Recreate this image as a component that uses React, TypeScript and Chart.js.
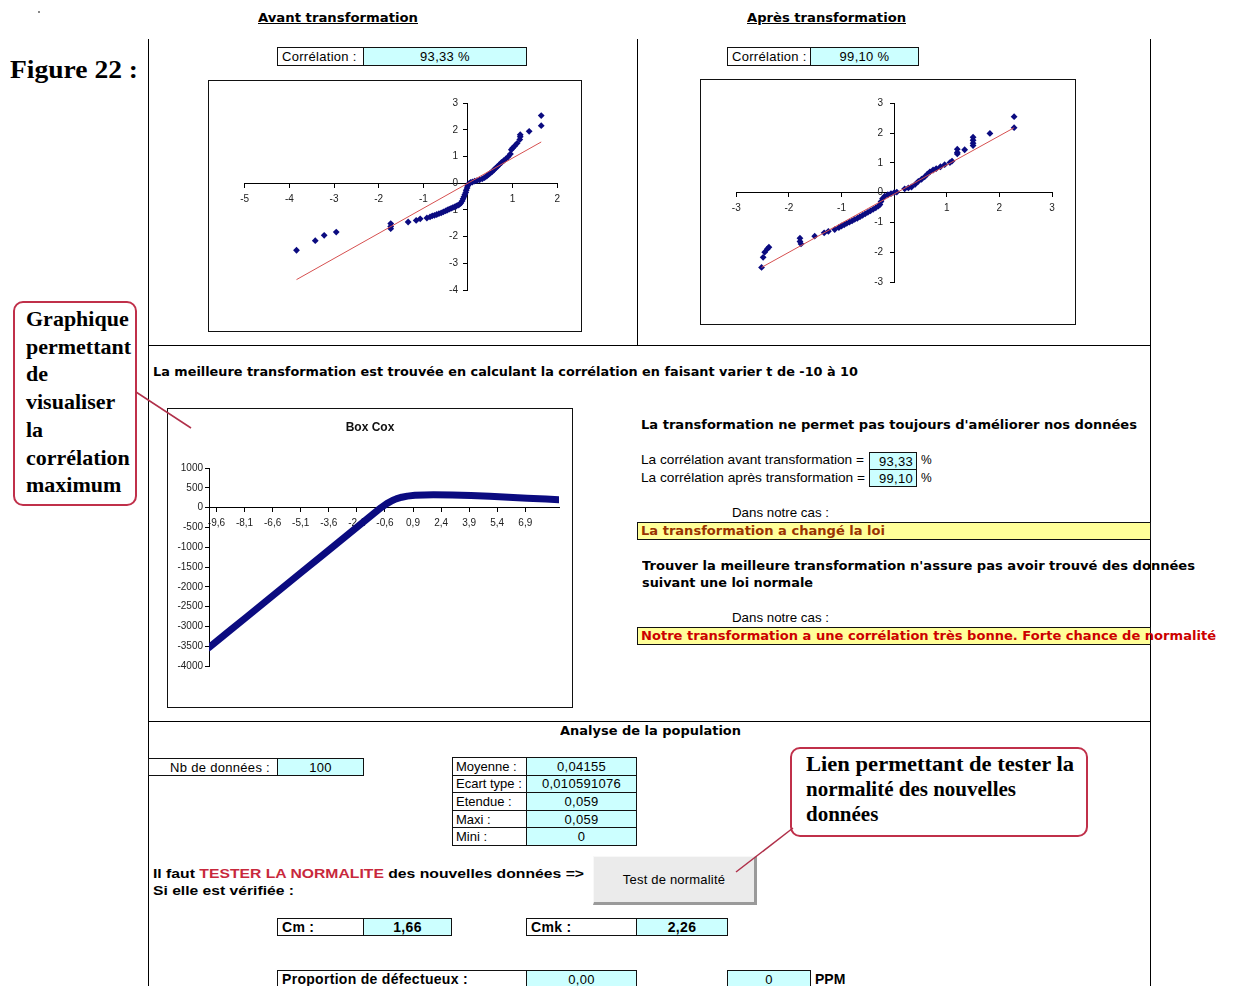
import React, { useEffect, useLayoutEffect, useRef } from "react";
import { Chart, registerables } from "chart.js";

Chart.register(...registerables);

// ---------- DATA ----------
// "Avant transformation" normal probability plot
const avantX = [-3.84, -3.42, -3.22, -2.95, -1.73, -1.73, -1.73, -1.34, -1.16, -1.07, -0.92, -0.85, -0.8, -0.75, -0.7, -0.65, -0.6, -0.55, -0.5, -0.46, -0.42, -0.38, -0.34, -0.3, -0.26, -0.22, -0.19, -0.16, -0.13, -0.11, -0.09, -0.07, -0.05, -0.04, -0.02, -0.01, 0.01, 0.03, 0.06, 0.1, 0.15, 0.2, 0.26, 0.32, 0.37, 0.42, 0.46, 0.5, 0.54, 0.58, 0.62, 0.66, 0.7, 0.75, 0.8, 0.85, 0.9, 0.95, 0.97, 1, 1.04, 1.1, 1.16, 1.17, 1.17, 1.37, 1.64, 1.64];
const avantY = [-2.51, -2.15, -1.95, -1.83, -1.51, -1.62, -1.7, -1.45, -1.39, -1.33, -1.3, -1.26, -1.22, -1.2, -1.17, -1.14, -1.11, -1.07, -1.03, -1, -0.97, -0.94, -0.91, -0.88, -0.85, -0.82, -0.79, -0.74, -0.66, -0.58, -0.5, -0.42, -0.34, -0.26, -0.18, -0.1, -0.04, 0, 0.03, 0.05, 0.08, 0.1, 0.13, 0.17, 0.21, 0.27, 0.33, 0.38, 0.44, 0.5, 0.57, 0.63, 0.7, 0.78, 0.85, 0.92, 1, 1.1, 1.26, 1.32, 1.39, 1.5, 1.64, 1.75, 1.82, 1.95, 2.16, 2.54];
const avantTrendX = [-3.84, 1.64];
const avantTrendY = [-3.61, 1.55];
const avantXTicks = [-5, -4, -3, -2, -1, 0, 1, 2];
const avantYTicks = [-4, -3, -2, -1, 0, 1, 2, 3];

// "Après transformation" normal probability plot
const apresX = [-2.52, -2.49, -2.46, -2.41, -2.38, -1.79, -1.79, -1.77, -1.51, -1.33, -1.25, -1.13, -1.05, -1, -0.95, -0.9, -0.85, -0.8, -0.75, -0.7, -0.65, -0.6, -0.55, -0.5, -0.45, -0.4, -0.35, -0.3, -0.27, -0.25, -0.22, -0.18, -0.12, -0.06, 0, 0.05, 0.2, 0.27, 0.33, 0.4, 0.46, 0.52, 0.58, 0.63, 0.68, 0.74, 0.8, 0.88, 0.96, 1.06, 1.1, 1.2, 1.2, 1.2, 1.34, 1.5, 1.5, 1.5, 1.5, 1.82, 2.28, 2.28];
const apresY = [-2.51, -2.17, -2, -1.89, -1.83, -1.53, -1.64, -1.72, -1.46, -1.35, -1.3, -1.24, -1.17, -1.12, -1.08, -1.03, -0.99, -0.95, -0.9, -0.86, -0.81, -0.76, -0.71, -0.66, -0.61, -0.56, -0.51, -0.45, -0.4, -0.3, -0.2, -0.12, -0.07, -0.03, 0, 0.02, 0.13, 0.16, 0.19, 0.28, 0.38, 0.45, 0.53, 0.62, 0.7, 0.76, 0.81, 0.87, 0.94, 1.01, 1.06, 1.3, 1.35, 1.46, 1.44, 1.58, 1.66, 1.76, 1.86, 1.99, 2.18, 2.55];
const apresTrendX = [-2.52, 2.28];
const apresTrendY = [-2.51, 2.18];
const apresXTicks = [-3, -2, -1, 0, 1, 2, 3];
const apresYTicks = [-3, -2, -1, 0, 1, 2, 3];

// Box Cox : correlation vs t
const boxCoxTitle = "Box Cox";
const boxCoxT = [-10, -9, -8, -7, -6, -5, -4, -3, -2, -1, -0.8, -0.5, -0.2, 0, 0.3, 0.6, 1, 1.5, 2, 3, 4, 5, 6, 7, 8, 8.7];
const boxCoxR = [-3533, -3150, -2765, -2380, -1995, -1610, -1230, -845, -460, -75, 0, 100, 180, 220, 262, 290, 310, 320, 322, 318, 305, 285, 262, 238, 215, 200];
const boxCoxXTicks = [-9.6, -8.1, -6.6, -5.1, -3.6, -2.1, -0.6, 0.9, 2.4, 3.9, 5.4, 6.9];
const boxCoxYTicks = [-4000, -3500, -3000, -2500, -2000, -1500, -1000, -500, 0, 500, 1000];

// Tables
const statLabels = ["Moyenne :", "Ecart type :", "Etendue :", "Maxi :", "Mini :"];
const statValues = ["0,04155", "0,010591076", "0,059", "0,059", "0"];

// ---------- STYLE ----------
const SANS = '"Liberation Sans", Arial, Helvetica, sans-serif';
const VERD = '"DejaVu Sans", Verdana, sans-serif';
const SERIF = '"Liberation Serif", "Times New Roman", serif';
const CYAN = "#ccffff";
const YELLOW = "#ffff99";
const NAVY = "#0b0b80";
const tickFont = { family: SANS, size: 10 };

const setTicks = (arr: number[]) => (axis: any) => {
  axis.ticks = arr.map((v) => ({ value: v }));
};

function qqConfig(xs: number[], ys: number[], lx: number[], ly: number[], xT: number[], yT: number[], labX: number, pad: any): any {
  return {
    type: "scatter",
    data: {
      datasets: [
        { type: "line", data: lx.map((x, i) => ({ x, y: ly[i] })), borderColor: "#d65050", borderWidth: 1, pointRadius: 0, order: 0 },
        { data: xs.map((x, i) => ({ x, y: ys[i] })), pointStyle: "rectRot", pointRadius: 3.4, backgroundColor: NAVY, borderColor: NAVY, borderWidth: 0, order: 1 },
      ],
    },
    options: {
      responsive: false,
      animation: false,
      events: [],
      layout: { padding: pad },
      plugins: { legend: { display: false }, tooltip: { enabled: false } },
      scales: {
        x: {
          type: "linear", position: { y: 0 }, min: xT[0], max: xT[xT.length - 1], afterBuildTicks: setTicks(xT),
          grid: { drawOnChartArea: false, tickLength: 4, color: "#000" }, border: { color: "#000" },
          ticks: { font: tickFont, color: "#222", padding: 6, autoSkip: false, maxRotation: 0, callback: (v: number) => (v === 0 ? "" : String(v)) },
        },
        y: {
          type: "linear", position: { x: 0 }, min: yT[0], max: yT[yT.length - 1], afterBuildTicks: setTicks(yT),
          grid: { drawOnChartArea: false, tickLength: 4, color: "#000" }, border: { color: "#000" },
          ticks: { display: false },
        },
        yLab: {
          type: "linear", axis: "y", position: { x: labX }, min: yT[0], max: yT[yT.length - 1], afterBuildTicks: setTicks(yT),
          grid: { display: false }, border: { display: false },
          ticks: { font: tickFont, color: "#222", callback: (v: number) => String(v) },
        },
      },
    },
  };
}

function boxCoxConfig(): any {
  return {
    type: "scatter",
    data: {
      datasets: [
        { data: boxCoxT.map((t, i) => ({ x: t, y: boxCoxR[i] })), showLine: true, borderColor: NAVY, borderWidth: 7, pointRadius: 0, borderCapStyle: "round", borderJoinStyle: "round" },
      ],
    },
    options: {
      responsive: false,
      animation: false,
      events: [],
      layout: { padding: { left: 41, right: 13, top: 59, bottom: 41 } },
      plugins: { legend: { display: false }, tooltip: { enabled: false } },
      scales: {
        x: {
          type: "linear", position: { y: 0 }, min: -10, max: 8.7, afterBuildTicks: setTicks(boxCoxXTicks),
          grid: { drawOnChartArea: false, tickLength: 4, color: "#000" }, border: { color: "#000" },
          ticks: { font: tickFont, color: "#222", padding: 6, autoSkip: false, maxRotation: 0, callback: (v: number) => String(v).replace(".", ",") },
        },
        y: {
          type: "linear", position: { x: -10 }, min: -4000, max: 1000, afterBuildTicks: setTicks(boxCoxYTicks),
          grid: { drawOnChartArea: false, tickLength: 4, color: "#000" }, border: { color: "#000" },
          ticks: { display: false },
        },
        yLab: {
          type: "linear", axis: "y", position: { x: -10.32 }, min: -4000, max: 1000, afterBuildTicks: setTicks(boxCoxYTicks),
          grid: { display: false }, border: { display: false },
          ticks: { font: tickFont, color: "#222", callback: (v: number) => String(v) },
        },
      },
    },
    plugins: [
      {
        id: "fixedTitle",
        afterDraw(chart: any) {
          const ctx = chart.ctx;
          ctx.save();
          ctx.font = `bold 12px ${SANS}`;
          ctx.fillStyle = "#111";
          ctx.textAlign = "center";
          ctx.textBaseline = "middle";
          ctx.fillText(boxCoxTitle, chart.width / 2, 19);
          ctx.restore();
        },
      },
    ],
  };
}

// ---------- COMPONENTS ----------
function ChartBox({ x, y, w, h, make }: any) {
  const ref = useRef<HTMLCanvasElement>(null);
  useEffect(() => {
    const c = new Chart(ref.current as HTMLCanvasElement, make());
    return () => c.destroy();
  }, []);
  return (
    <div style={{ position: "absolute", left: x, top: y, width: w, height: h, boxSizing: "border-box", border: "1px solid #111", background: "#fff" }}>
      <canvas ref={ref} width={w - 2} height={h - 2} style={{ display: "block", width: w - 2, height: h - 2 }} />
    </div>
  );
}

function T({ x, y, w, size = 12, bold = false, family = SANS, color = "#000", underline = false, children }: any) {
  const ref = useRef<HTMLSpanElement>(null);
  useLayoutEffect(() => {
    const el = ref.current;
    if (!el || !w) return;
    el.style.transform = "none";
    const nat = el.getBoundingClientRect().width;
    if (nat > 0) el.style.transform = `scaleX(${w / nat})`;
  }, [w]);
  const lh = Math.round(size * 1.25);
  return (
    <span
      ref={ref}
      style={{
        position: "absolute", left: x, top: y - lh / 2, fontSize: size, lineHeight: `${lh}px`, fontFamily: family,
        fontWeight: bold ? 700 : 400, color, whiteSpace: "nowrap", transformOrigin: "0 50%",
        textDecoration: underline ? "underline" : "none",
      }}
    >
      {children}
    </span>
  );
}

function Box({ x, y, w, h, bg = "#fff", children, align = "center", pad = 3, size = 13, bold = false, color = "#000", ls = 0.3 }: any) {
  return (
    <div
      style={{
        position: "absolute", left: x, top: y, width: w, height: h, boxSizing: "border-box", border: "1px solid #111",
        background: bg, display: "flex", alignItems: "center",
        justifyContent: align === "left" ? "flex-start" : align === "right" ? "flex-end" : "center",
        padding: `0 ${pad}px`, fontFamily: SANS, fontSize: size, fontWeight: bold ? 700 : 400, color,
        whiteSpace: "nowrap", letterSpacing: ls, lineHeight: 1,
      }}
    >
      {children}
    </div>
  );
}

const Line = ({ x, y, w, h }: any) => <div style={{ position: "absolute", left: x, top: y, width: w, height: h, background: "#000" }} />;

export default function App() {
  return (
    <div style={{ position: "absolute", left: 0, top: 0, width: 1233, height: 986, overflow: "hidden", background: "#fff", fontFamily: SANS }}>
      {/* frame lines */}
      <Line x={148} y={39} w={1} h={947} />
      <Line x={637} y={39} w={1} h={307} />
      <Line x={1150} y={39} w={1} h={947} />
      <Line x={148} y={345} w={1003} h={1} />
      <Line x={148} y={721} w={1003} h={1} />
      <div style={{ position: "absolute", left: 38, top: 11, width: 2, height: 2, background: "#888" }} />

      <T x={10} y={69} w={128} size={26} bold family={SERIF}>Figure 22 :</T>

      {/* headers */}
      <T x={258} y={18} w={160} size={12} bold family={VERD} underline>Avant transformation</T>
      <T x={747} y={18} w={159} size={12} bold family={VERD} underline>Après transformation</T>

      <Box x={277} y={47} w={87} h={19} align="left" pad={4}>Corrélation :</Box>
      <Box x={363} y={47} w={164} h={19} bg={CYAN}>93,33 %</Box>
      <Box x={727} y={47} w={84} h={19} align="left" pad={4}>Corrélation :</Box>
      <Box x={810} y={47} w={109} h={19} bg={CYAN}>99,10 %</Box>

      <ChartBox x={208} y={80} w={374} h={252} make={() => qqConfig(avantX, avantY, avantTrendX, avantTrendY, avantXTicks, avantYTicks, -0.224, { left: 35.7, right: 23.7, top: 22.3, bottom: 41 })} />
      <ChartBox x={700} y={79} w={376} h={246} make={() => qqConfig(apresX, apresY, apresTrendX, apresTrendY, apresXTicks, apresYTicks, -0.21, { left: 35.3, right: 23, top: 23.3, bottom: 42 })} />

      <T x={153} y={372} w={705} size={12} bold family={VERD}>La meilleure transformation est trouvée en calculant la corrélation en faisant varier t de -10 à 10</T>

      <ChartBox x={167} y={408} w={406} h={300} make={boxCoxConfig} />

      {/* right text block */}
      <T x={641} y={425} w={496} size={12} bold family={VERD}>La transformation ne permet pas toujours d'améliorer nos données</T>
      <T x={641} y={460} w={223} size={13}>La corrélation avant transformation =</T>
      <T x={641} y={478} w={224} size={13}>La corrélation après transformation =</T>
      <Box x={869} y={452} w={48} h={18} bg={CYAN} align="right" pad={3}>93,33</Box>
      <Box x={869} y={469} w={48} h={18} bg={CYAN} align="right" pad={3}>99,10</Box>
      <T x={921} y={460} size={12}>%</T>
      <T x={921} y={478} size={12}>%</T>

      <T x={732} y={513} w={97} size={13}>Dans notre cas :</T>
      <Box x={637} y={522} w={514} h={18} bg={YELLOW} />
      <T x={641} y={531} w={244} size={12} bold family={VERD} color="#993300">La transformation a changé la loi</T>

      <T x={642} y={566} w={553} size={12} bold family={VERD}>Trouver la meilleure transformation n'assure pas avoir trouvé des données</T>
      <T x={642} y={583} w={171} size={12} bold family={VERD}>suivant une loi normale</T>
      <T x={732} y={618} w={97} size={13}>Dans notre cas :</T>
      <Box x={637} y={627} w={514} h={18} bg={YELLOW} />
      <T x={641} y={636} w={575} size={12} bold family={VERD} color="#cc0000">Notre transformation a une corrélation très bonne. Forte chance de normalité</T>

      {/* population analysis */}
      <T x={560} y={731} w={181} size={12} bold family={VERD}>Analyse de la population</T>
      <Box x={148} y={758} w={130} h={18} align="right" pad={7}>Nb de données :</Box>
      <Box x={277} y={758} w={87} h={18} bg={CYAN}>100</Box>

      {statLabels.map((lab, i) => (
        <React.Fragment key={lab}>
          <Box x={452} y={757 + i * 17.6} w={75} h={18.6} align="left" pad={3} ls={0}>{lab}</Box>
          <Box x={526} y={757 + i * 17.6} w={111} h={18.6} bg={CYAN}>{statValues[i]}</Box>
        </React.Fragment>
      ))}

      <T x={153} y={874} w={431} size={13} bold>
        Il faut <span style={{ color: "#c8283c" }}>TESTER LA NORMALITE</span> des nouvelles données =&gt;
      </T>
      <T x={153} y={891} w={141} size={13} bold>Si elle est vérifiée :</T>

      <div
        style={{
          position: "absolute", left: 593, top: 856, width: 164, height: 49, boxSizing: "border-box", background: "#ebebeb",
          borderTop: "1px solid #f8f8f8", borderLeft: "1px solid #f8f8f8", borderRight: "3px solid #9a9a9a", borderBottom: "3px solid #9a9a9a",
          display: "flex", alignItems: "center", justifyContent: "center", fontFamily: SANS, fontSize: 13, letterSpacing: 0.2,
        }}
      >
        Test de normalité
      </div>

      <Box x={277} y={918} w={87} h={18} align="left" pad={4} bold size={14}>Cm :</Box>
      <Box x={363} y={918} w={89} h={18} bg={CYAN} bold size={14}>1,66</Box>
      <Box x={526} y={918} w={111} h={18} align="left" pad={4} bold size={14}>Cmk :</Box>
      <Box x={636} y={918} w={92} h={18} bg={CYAN} bold size={14}>2,26</Box>

      <Box x={277} y={970} w={250} h={18} align="left" pad={4} bold size={14}>Proportion de défectueux :</Box>
      <Box x={526} y={970} w={111} h={18} bg={CYAN}>0,00</Box>
      <Box x={727} y={970} w={84} h={18} bg={CYAN}>0</Box>
      <T x={815} y={979} size={14} bold>PPM</T>

      {/* callouts */}
      <div style={{ position: "absolute", left: 13, top: 301, width: 124, height: 205, boxSizing: "border-box", border: "2px solid #c0304a", borderRadius: 10, background: "#fff" }} />
      {["Graphique", "permettant", "de", "visualiser", "la", "corrélation", "maximum"].map((s, i) => (
        <T key={s} x={26} y={319 + i * 27.7} size={22} bold family={SERIF}>{s}</T>
      ))}
      <div style={{ position: "absolute", left: 790, top: 747, width: 298, height: 90, boxSizing: "border-box", border: "2px solid #c0304a", borderRadius: 10, background: "#fff" }} />
      <T x={806} y={764} size={21} bold family={SERIF} w={268}>Lien permettant de tester la</T>
      <T x={806} y={789} size={21} bold family={SERIF}>normalité des nouvelles</T>
      <T x={806} y={814} size={21} bold family={SERIF}>données</T>

      <svg width={1233} height={986} style={{ position: "absolute", left: 0, top: 0, pointerEvents: "none" }}>
        <line x1={136} y1={392} x2={191} y2={428} stroke="#b0304a" strokeWidth={1.5} />
        <line x1={793} y1={828} x2={736} y2={872} stroke="#b0304a" strokeWidth={1.5} />
      </svg>
    </div>
  );
}
